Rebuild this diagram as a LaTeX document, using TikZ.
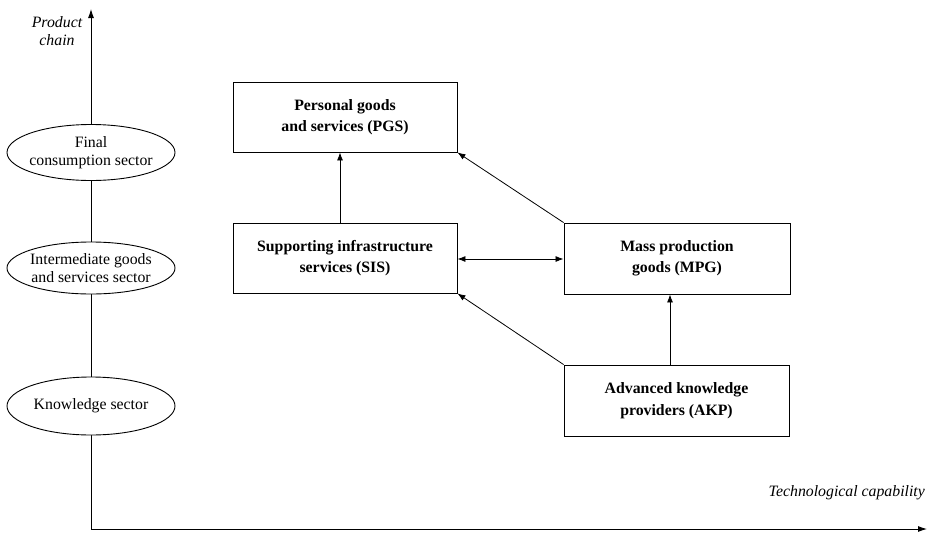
\documentclass[tikz,border=0pt]{standalone}
\usepackage{fontspec}
\setmainfont{Liberation Serif}
\usetikzlibrary{shapes.geometric,arrows.meta}
\begin{document}
\begin{tikzpicture}[x=1pt,y=-1pt,
  box/.style={draw, line width=0.9pt, align=center, inner sep=0pt,
    font=\fontsize{15.8}{21.5}\selectfont\bfseries},
  sector/.style={draw, ellipse, fill=white, line width=0.9pt, align=center,
    inner xsep=-16pt, inner ysep=-6pt,
    minimum width=168pt, minimum height=56pt, font=\fontsize{15.8}{17.5}\selectfont},
  conn/.style={line width=0.8pt, -{Latex[length=8pt,width=6pt]}},
  axis/.style={line width=0.9pt, -{Latex[length=9pt,width=6pt]}},
  axlabel/.style={font=\fontsize{15.8}{18}\selectfont\itshape, align=center, inner sep=0pt}]
\useasboundingbox (0,0) rectangle (928,533);
% axes
\coordinate (o) at (91,529);
\coordinate (ytop) at (91,9);
\coordinate (xend) at (927,529);
\draw[axis] (o) -- (ytop);
\draw[axis] (o) -- (xend);
\node[axlabel] (pc) at (57,31) {Product\\chain};
\node[axlabel, anchor=east] (tc) at (925,493) {Technological capability};
% sectors
\node[sector] (fin) at (91,152.5) {Final\\consumption sector};
\node[sector, minimum height=52pt] (int) at (91,268) {Intermediate goods\\and services sector};
\node[sector, minimum height=58pt] (kno) at (91,406) {Knowledge sector};
% boxes
\node[box, minimum width=224pt, minimum height=70pt] (pgs) at (345,117) {Personal goods\\and services (PGS)};
\node[box, minimum width=224pt, minimum height=70pt] (sis) at (345,258) {Supporting infrastructure\\services (SIS)};
\node[box, minimum width=226pt, minimum height=71pt] (mpg) at (677,258.5) {Mass production\\goods (MPG)};
\node[box, minimum width=225pt, minimum height=71pt] (akp) at (676.5,400.5) {Advanced knowledge\\providers (AKP)};
% connectors
\draw[conn] (sis.north -| 340,0) -- (pgs.south -| 340,0);
\draw[conn] (mpg.north west) -- (pgs.south east);
\draw[conn, {Latex[length=8pt,width=6pt]}-{Latex[length=8pt,width=6pt]}] (sis.east |- 0,259) -- (mpg.west |- 0,259);
\draw[conn] (akp.north west) -- (sis.south east);
\draw[conn] (akp.north -| 670,0) -- (mpg.south -| 670,0);
\end{tikzpicture}
\end{document}
